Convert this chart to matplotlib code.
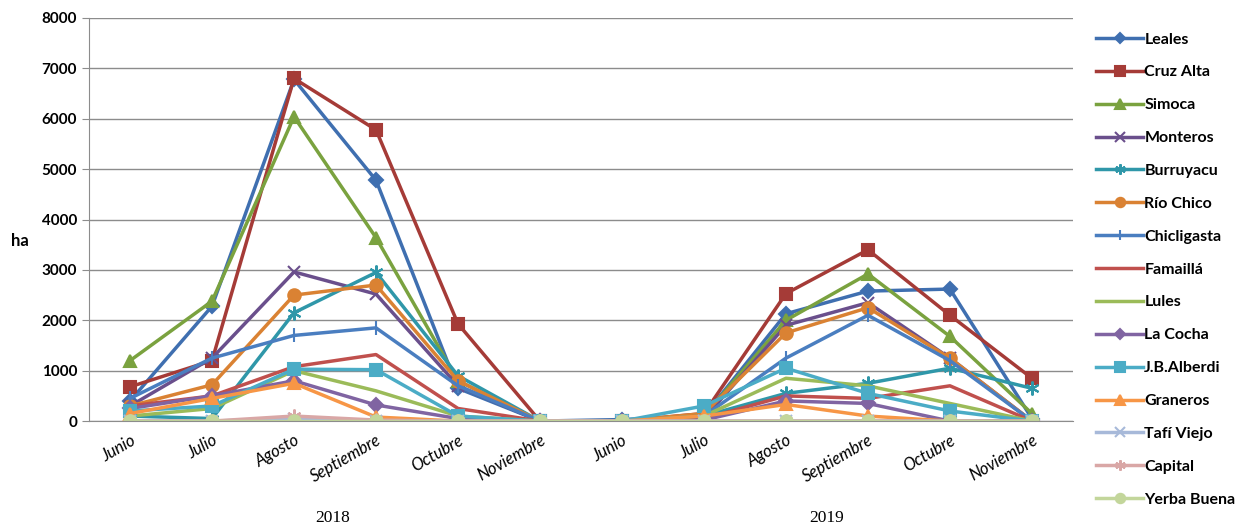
import matplotlib.pyplot as plt
import numpy as np

months = ["Junio", "Julio", "Agosto", "Septiembre", "Octubre", "Noviembre",
          "Junio", "Julio", "Agosto", "Septiembre", "Octubre", "Noviembre"]
years = ["2018", "2019"]

leales = [400, 2280, 6780, 4780, 650, 0, 30, 100, 2130, 2580, 2620, 50]
cruz_alta = [680, 1200, 6800, 5780, 1930, 0, 0, 150, 2530, 3400, 2100, 850]
simoca = [1200, 2380, 6040, 3640, 800, 0, 0, 100, 2000, 2920, 1680, 150]
monteros = [300, 1250, 2960, 2520, 700, 0, 0, 50, 1900, 2350, 1250, 0]
burruyacu = [100, 50, 2150, 2950, 900, 0, 0, 100, 550, 750, 1050, 650]
rio_chico = [300, 720, 2500, 2700, 800, 0, 0, 150, 1750, 2250, 1250, 0]
chicligasta = [450, 1250, 1700, 1850, 700, 0, 0, 100, 1250, 2100, 1200, 0]
famailla = [300, 500, 1080, 1320, 250, 0, 0, 50, 500, 450, 700, 0]
lules = [100, 250, 1000, 600, 100, 0, 0, 100, 850, 700, 350, 0]
la_cocha = [250, 500, 800, 320, 50, 0, 0, 20, 400, 350, 0, 0]
jb_alberdi = [200, 300, 1030, 1020, 100, 0, 0, 300, 1050, 550, 200, 0]
graneros = [150, 450, 750, 80, 0, 0, 0, 100, 330, 100, 0, 0]
tafi_viejo = [0, 0, 50, 0, 0, 0, 0, 0, 0, 0, 0, 0]
capital = [0, 0, 100, 20, 0, 0, 0, 0, 0, 0, 0, 0]
yerba_buena = [0, 0, 0, 0, 0, 0, 0, 0, 0, 0, 0, 0]

series = [
    ("Leales", leales, "#3F6FB0", "D", 7),
    ("Cruz Alta", cruz_alta, "#A53B37", "s", 9),
    ("Simoca", simoca, "#7AA23F", "^", 9),
    ("Monteros", monteros, "#6A4F8C", "x", 9),
    ("Burruyacu", burruyacu, "#2F97A9", (6, 2, 0), 10),
    ("Río Chico", rio_chico, "#DA8233", "o", 9),
    ("Chicligasta", chicligasta, "#4A7EC0", "|", 10),
    ("Famaillá", famailla, "#C0504D", None, 0),
    ("Lules", lules, "#9BBB59", None, 0),
    ("La Cocha", la_cocha, "#8064A2", "D", 7),
    ("J.B.Alberdi", jb_alberdi, "#4BACC6", "s", 9),
    ("Graneros", graneros, "#F79646", "^", 9),
    ("Tafí Viejo", tafi_viejo, "#A7B9D9", "x", 9),
    ("Capital", capital, "#D9A7A6", (6, 2, 0), 10),
    ("Yerba Buena", yerba_buena, "#C3D69B", "o", 9),
]

fig = plt.figure(figsize=(12.47, 5.29), dpi=100)
ax = fig.add_axes([0.0714, 0.204, 0.789, 0.762])

x = np.arange(len(months))
for name, vals, color, marker, ms in series:
    ax.plot(x, vals, color=color, lw=2.5, marker=marker, markersize=ms,
            markeredgewidth=1.5, label=name)

ax.set_xlim(-0.5, len(months) - 0.5)
ax.set_ylim(0, 8000)
ax.set_yticks(range(0, 8001, 1000))
ax.yaxis.grid(True, color="#8c8c8c", lw=1)
ax.set_axisbelow(True)
ax.set_xticks(x)
ax.set_xticklabels(months, rotation=30, ha="right", rotation_mode="anchor",
                   style="italic", fontsize=12, family="Lato")
ax.tick_params(axis="x", length=0, pad=8)
ax.tick_params(axis="y", labelsize=11, color="#8c8c8c", length=5)
for lab in ax.get_yticklabels():
    lab.set_family("Lato")
    lab.set_fontweight("bold")
for s in ["top", "right"]:
    ax.spines[s].set_visible(False)
ax.spines["left"].set_color("#8c8c8c")
ax.spines["bottom"].set_color("#8c8c8c")

fig.text(20 / 1247, 1 - 241 / 529, "ha", ha="center", va="center",
         fontsize=12, fontweight="bold", family="Lato")

fig.text(333 / 1247, 1 - 518 / 529, years[0], ha="center", va="center",
         family="Liberation Serif", fontsize=12.5)
fig.text(827 / 1247, 1 - 518 / 529, years[1], ha="center", va="center",
         family="Liberation Serif", fontsize=12.5)

fig.legend(loc="upper left", bbox_to_anchor=(1082 / 1247, 1 - 18 / 529),
           frameon=False, prop={"family": "Lato", "weight": "bold", "size": 11.5},
           labelspacing=1.17, handlelength=2.9, handletextpad=0.1,
           markerscale=0.75)

fig.savefig("out.png", dpi=100)
